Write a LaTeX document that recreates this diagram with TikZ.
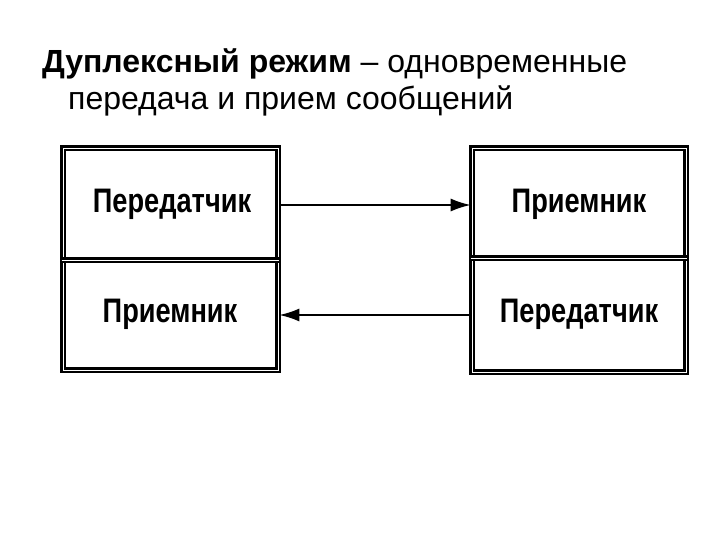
\documentclass[tikz,border=0pt]{standalone}
\usepackage{fontspec}
\setmainfont{Liberation Sans}
\usetikzlibrary{arrows.meta}
\begin{document}
\begin{tikzpicture}[x=1pt,y=-1pt,
  boxline/.style={line width=2.6pt,double distance=0.9pt},
  lbl/.style={font=\bfseries\fontsize{34}{38}\selectfont,xscale=0.8,inner sep=0},
  conn/.style={line width=1.8pt,-{Latex[length=20pt,width=13pt]}},
  title/.style={font=\fontsize{32}{36}\selectfont,anchor=base west,inner sep=0}]
\useasboundingbox (0,0) rectangle (720,540);
\node[title] (t1) at (42,73) {\textbf{Дуплексный режим} – одновременные};
\node[title] (t2) at (68,110) {передача и прием сообщений};
\node[draw,boxline,minimum width=215pt,minimum height=222pt,inner sep=0] (L) at (170.5,259) {};
\node[draw,boxline,minimum width=214pt,minimum height=224pt,inner sep=0] (R) at (579,260) {};
\draw[boxline] (L.west |- 0,260) -- (L.east |- 0,260);
\draw[boxline] (R.west |- 0,258) -- (R.east |- 0,258);
\node[lbl] (l1) at (172,204) {Передатчик};
\node[lbl] (l2) at (170,314) {Приемник};
\node[lbl] (r1) at (579,204) {Приемник};
\node[lbl] (r2) at (579,314) {Передатчик};
\draw[conn] (L.east |- 0,205) -- (R.west |- 0,205);
\draw[conn] (R.west |- 0,315) -- (L.east |- 0,315);
\end{tikzpicture}
\end{document}
